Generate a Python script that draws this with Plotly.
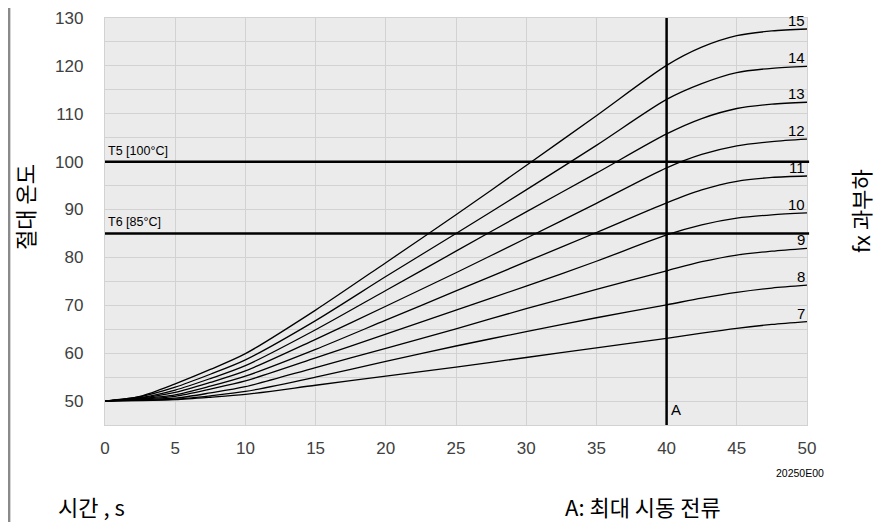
import plotly.graph_objects as go

# ---- data ----
time_s = [0, 2.5, 5, 7.5, 10, 15, 20, 25, 30, 35, 40, 42.5, 45, 47.5, 50]
curve_names = ["15", "14", "13", "12", "11", "10", "9", "8", "7"]
c15 = [50, 51.0, 53.6, 56.6, 59.9, 69.0, 78.9, 88.9, 99.2, 109.6, 120.1, 123.9, 126.3, 127.3, 127.7]
c14 = [50, 50.9, 52.9, 55.6, 58.6, 66.8, 76.0, 85.0, 94.1, 103.4, 113.0, 116.3, 118.6, 119.5, 119.9]
c13 = [50, 50.7, 52.3, 54.7, 57.4, 64.9, 73.1, 81.3, 89.5, 97.6, 105.8, 109.0, 111.1, 112.0, 112.4]
c12 = [50, 50.6, 51.8, 53.9, 56.3, 62.9, 69.8, 76.8, 84.0, 91.3, 98.7, 101.5, 103.3, 104.2, 104.7]
c11 = [50, 50.5, 51.3, 53.1, 55.2, 60.8, 66.9, 73.0, 79.1, 85.2, 91.4, 94.1, 95.9, 96.7, 97.0]
c10 = [50, 50.4, 51.0, 52.5, 54.2, 59.0, 64.0, 69.0, 74.0, 79.2, 84.7, 86.8, 88.2, 88.9, 89.3]
c9 = [50, 50.3, 50.6, 51.7, 53.0, 57.0, 61.0, 65.1, 69.3, 73.3, 77.2, 79.1, 80.5, 81.3, 81.9]
c8 = [50, 50.2, 50.4, 51.1, 52.0, 55.0, 58.3, 61.5, 64.5, 67.4, 70.1, 71.5, 72.7, 73.6, 74.2]
c7 = [50, 50.1, 50.3, 50.8, 51.4, 53.3, 55.2, 57.1, 59.1, 61.1, 63.1, 64.2, 65.2, 66.0, 66.6]
curves = [c15, c14, c13, c12, c11, c10, c9, c8, c7]

limit_values = [100, 85]
limit_labels = ["T5 [100°C]", "T6 [85°C]"]
start_current_time = 40
start_current_label = "A"

x_ticks = [0, 5, 10, 15, 20, 25, 30, 35, 40, 45, 50]
y_grid = [45, 50, 55, 60, 65, 70, 75, 80, 85, 90, 95, 100, 105, 110, 115, 120, 125, 130]
y_tick_text = ["", "50", "", "60", "", "70", "", "80", "", "90", "", "100", "", "110", "", "120", "", "130"]

y_title = "절대 온도"
right_title = "fx 과부하"
x_title = "시간 , s"
legend_a = "A: 최대 시동 전류"
code_text = "20250E00"

LAT = "Arial, 'Liberation Sans', sans-serif"
KR = "'Noto Sans CJK KR', sans-serif"

fig = go.Figure()
for name, ys in zip(curve_names, curves):
    fig.add_trace(go.Scatter(x=time_s, y=ys, mode="lines", name=name,
                             line=dict(color="black", width=1.3, shape="spline", smoothing=0.8),
                             showlegend=False, hoverinfo="skip"))

shapes = []
annotations = []
for v, lab in zip(limit_values, limit_labels):
    shapes.append(dict(type="line", xref="paper", yref="y", x0=0, x1=1.003, y0=v, y1=v,
                       line=dict(color="black", width=2.5)))
    annotations.append(dict(x=0, y=v, xref="x", yref="y", text=lab, showarrow=False,
                            xanchor="left", yanchor="bottom", xshift=1, yshift=2,
                            font=dict(family=LAT, size=12.5, color="black")))
shapes.append(dict(type="line", xref="x", yref="paper", x0=start_current_time, x1=start_current_time,
                   y0=0, y1=1, line=dict(color="black", width=2.5)))
annotations.append(dict(x=start_current_time, y=45, xref="x", yref="y", text=start_current_label,
                        showarrow=False, xanchor="left", yanchor="bottom", xshift=2, yshift=5,
                        font=dict(family=LAT, size=15, color="black")))
for name, ys in zip(curve_names, curves):
    annotations.append(dict(x=time_s[-1], y=ys[-1], xref="x", yref="y", text=name, showarrow=False,
                            xanchor="right", yanchor="bottom", xshift=0, yshift=-2,
                            font=dict(family=LAT, size=15, color="black")))

# left gray border at the figure's left edge
shapes.append(dict(type="rect", xref="paper", yref="paper", x0=-0.1382, x1=-0.1348,
                   y0=-0.2383, y1=1.0246, fillcolor="#8a8a8a", line=dict(width=0), layer="above"))

annotations += [
    dict(x=-0.1154, y=0.5356, xref="paper", yref="paper", text=y_title, textangle=-90,
         showarrow=False, xanchor="center", yanchor="middle", font=dict(family=KR, size=22, color="black")),
    dict(x=1.0755, y=0.5258, xref="paper", yref="paper", text=right_title, textangle=-90,
         showarrow=False, xanchor="center", yanchor="middle", font=dict(family=KR, size=22, color="black")),
    dict(x=-0.0698, y=-0.199, xref="paper", yref="paper", text=x_title,
         showarrow=False, xanchor="left", yanchor="middle", font=dict(family=KR, size=22, color="black")),
    dict(x=0.6529, y=-0.199, xref="paper", yref="paper", text=legend_a,
         showarrow=False, xanchor="left", yanchor="middle", font=dict(family=KR, size=22, color="black")),
    dict(x=0.9907, y=-0.1179, xref="paper", yref="paper", text=code_text,
         showarrow=False, xanchor="center", yanchor="middle", font=dict(family=LAT, size=10.5, color="black")),
]

fig.update_layout(
    width=880, height=514,
    margin=dict(l=97, r=81, t=10, b=97, autoexpand=False),
    paper_bgcolor="white", plot_bgcolor="#ebebeb",
    shapes=shapes, annotations=annotations,
    xaxis=dict(range=[0, 50], tickvals=x_ticks, ticktext=[str(t) for t in x_ticks],
               showgrid=True, gridcolor="#d2d2d2", gridwidth=1.3, zeroline=False,
               showline=True, linecolor="#d2d2d2", linewidth=1.3, mirror=True,
               ticks="", ticklabelstandoff=7, automargin=False, ticklabeloverflow="allow",
               tickfont=dict(family=LAT, size=17, color="#404040")),
    yaxis=dict(range=[45, 130], tickvals=y_grid, ticktext=y_tick_text,
               showgrid=True, gridcolor="#d2d2d2", gridwidth=1.3, zeroline=False,
               showline=True, linecolor="#d2d2d2", linewidth=1.3, mirror=True,
               ticks="", ticklabelstandoff=17, automargin=False, ticklabeloverflow="allow",
               tickfont=dict(family=LAT, size=17, color="#404040")),
)

fig.write_html("out.html")
